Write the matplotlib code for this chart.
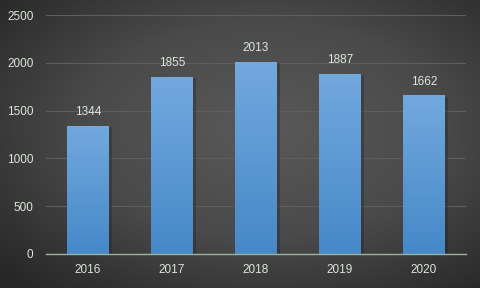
import numpy as np
import matplotlib
matplotlib.use("Agg")
import matplotlib.pyplot as plt
from matplotlib.colors import LinearSegmentedColormap

# data
years = ["2016", "2017", "2018", "2019", "2020"]
values = [1344, 1855, 2013, 1887, 1662]
yticks = [0, 500, 1000, 1500, 2000, 2500]

txt_color = "#dbe7da"
plt.rcParams["font.family"] = ["Liberation Sans", "DejaVu Sans"]

fig = plt.figure(figsize=(4.8, 2.88), dpi=100)

# radial gradient background
bg = fig.add_axes([0, 0, 1, 1], zorder=0)
yy, xx = np.mgrid[0:1:288j, 0:1:480j]
r = np.sqrt(((xx - 0.55) / 0.75) ** 2 + ((yy - 0.45) / 0.75) ** 2)
bg_cmap = LinearSegmentedColormap.from_list("bg", ["#595959", "#4a4a4a", "#262626"])
bg.imshow(np.clip(r, 0, 1), cmap=bg_cmap, aspect="auto", extent=[0, 1, 0, 1], vmin=0, vmax=1)
bg.axis("off")

ax = fig.add_axes([46 / 480, 1 - 254 / 288, 420 / 480, 239 / 288], zorder=1)
ax.patch.set_alpha(0)

x = np.arange(len(years))
bars = ax.bar(x, values, width=0.5, color="none", zorder=3)

bar_cmap = LinearSegmentedColormap.from_list("bar", ["#4688c8", "#72a9de"])
grad = np.linspace(0, 1, 256).reshape(-1, 1)
for b in bars:
    x0, w, h = b.get_x(), b.get_width(), b.get_height()
    # shadow
    ax.bar(x0 + w / 2 + 0.03, h, width=w, bottom=-15, color="#222222", alpha=0.35, zorder=2)
    im = ax.imshow(grad, cmap=bar_cmap, origin="lower", aspect="auto",
                   extent=[x0, x0 + w, 0, h], zorder=3)
    im.set_clip_path(b)
    ax.text(x0 + w / 2, h + 75, str(int(h)), ha="center", va="bottom",
            color=txt_color, fontsize=8.5, zorder=4)

ax.set_xlim(-0.5, len(years) - 0.5)
ax.set_ylim(0, 2500)
ax.set_yticks(yticks)
ax.set_xticks(x)
ax.set_xticklabels(years)
ax.tick_params(colors=txt_color, labelsize=8.5, length=0)
ax.tick_params(axis="y", pad=9)
ax.tick_params(axis="x", pad=7)
ax.grid(axis="y", color="#5e5e5e", linewidth=0.8, zorder=1)
for s in ["top", "right", "left"]:
    ax.spines[s].set_visible(False)
ax.spines["bottom"].set_color("#98b59a")
ax.spines["bottom"].set_linewidth(1)
ax.spines["bottom"].set_zorder(5)

fig.savefig("out.png", dpi=100)
